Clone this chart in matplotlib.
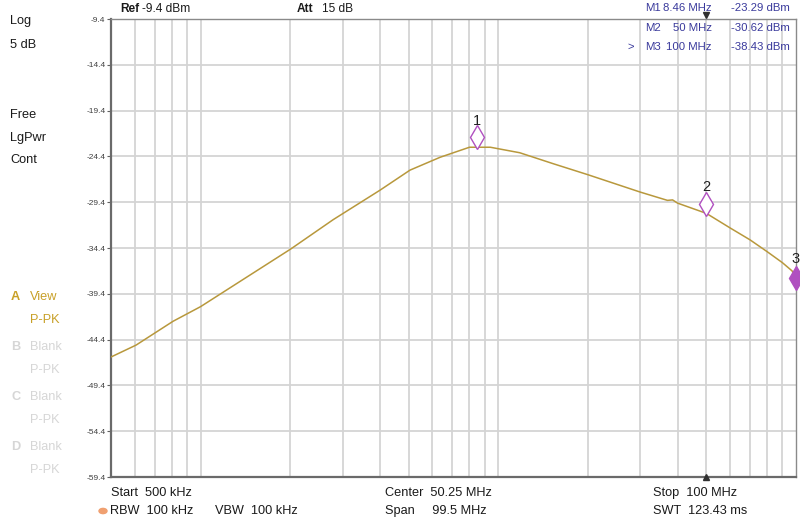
import matplotlib
matplotlib.use("Agg")
import matplotlib.pyplot as plt
import numpy as np
from matplotlib.transforms import ScaledTranslation

plt.rcParams['font.family'] = ['Liberation Sans', 'DejaVu Sans']

# ---- data ----
freq_mhz = [0.5, 0.607, 0.808, 1.0, 2.01, 2.79, 4.0, 5.05, 6.37, 8.0, 9.4,
            11.8, 15.3, 20.0, 30.0, 37.0, 38.5, 40.0, 50.0, 60.0, 70.0, 80.0, 90.0, 97.0, 100.0]
level_dbm = [-46.3, -45.0, -42.4, -40.8, -34.5, -31.3, -28.1, -25.9, -24.5, -23.4, -23.4,
             -24.0, -25.2, -26.4, -28.3, -29.2, -29.15, -29.5, -30.62, -32.2, -33.5, -34.8, -36.0, -36.9, -37.7]

marker_names = ["M1", "M2", "M3"]
marker_freq = [8.46, 50.0, 100.0]
marker_level = [-23.29, -30.62, -38.43]
marker_freq_txt = ["8.46 MHz", "50 MHz", "100 MHz"]
marker_level_txt = ["-23.29 dBm", "-30.62 dBm", "-38.43 dBm"]

y_ticks = [-9.4, -14.4, -19.4, -24.4, -29.4, -34.4, -39.4, -44.4, -49.4, -54.4, -59.4]
x_grid = [0.6, 0.7, 0.8, 0.9, 1, 2, 3, 4, 5, 6, 7, 8, 9, 10, 20, 30, 40, 50, 60, 70, 80, 90]

W, H = 800, 521
fig = plt.figure(figsize=(W / 100, H / 100), dpi=100)
ax = fig.add_axes([111 / W, 1 - 477 / H, (796 - 111) / W, (477 - 19) / H])

ax.set_xscale('log')
ax.set_xlim(0.5, 100)
ax.set_ylim(-59.4, -9.4)

# grid
for f in x_grid:
    ax.axvline(f, color='#d4d4d4', lw=1.3, zorder=0)
for yv in y_ticks:
    ax.axhline(yv, color='#d4d4d4', lw=1.3, zorder=0)

ax.plot(freq_mhz, level_dbm, color='#b8983c', lw=1.1, zorder=3)

# markers
mcol = '#b050c0'
off = ScaledTranslation(0, 7 / 72, fig.dpi_scale_trans)
label_off = [18, 19]
for i in range(2):
    ax.plot(marker_freq[i], marker_level[i], marker='d', ms=12, mfc='white', mec=mcol,
            mew=1.0, transform=ax.transData + off, zorder=5, clip_on=False)
    ax.annotate(str(i + 1), (marker_freq[i], marker_level[i]), xytext=(0, label_off[i]),
                textcoords='offset points', ha='center', va='center', fontsize=10.5, color='#202020')
ax.plot(marker_freq[2], level_dbm[-1], marker='d', ms=12, mfc=mcol, mec=mcol,
        zorder=5, clip_on=False)
ax.annotate("3", (marker_freq[2], level_dbm[-1]), xytext=(0, 14),
            textcoords='offset points', ha='center', va='center', fontsize=10.5, color='#202020',
            annotation_clip=False)

# small triangles at marker 2 position
ax.plot(marker_freq[1], -59.4, marker='^', ms=5, color='#303030', clip_on=False, zorder=6)
ax.plot(marker_freq[1], -9.4, marker='v', ms=5, color='#303030', clip_on=False, zorder=6,
        transform=ax.transData + ScaledTranslation(0, 3 / 72, fig.dpi_scale_trans))

# axes styling
ax.set_xticks([])
ax.set_xticks([], minor=True)
ax.set_yticks(y_ticks)
ax.set_yticklabels([f"{v:.1f}" for v in y_ticks], fontsize=6, color='#404040')
ax.tick_params(axis='y', length=3, width=0.8, color='#606060', pad=1)
for s in ['left', 'bottom']:
    ax.spines[s].set_color('#6a6a6a')
    ax.spines[s].set_linewidth(1.6)
for s in ['top', 'right']:
    ax.spines[s].set_color('#8a8a8a')
    ax.spines[s].set_linewidth(1.0)

def ftext(x, y, s, **kw):
    kw.setdefault('fontsize', 9.2)
    kw.setdefault('color', '#1a1a1a')
    kw.setdefault('va', 'center')
    fig.text(x / W, 1 - y / H, s, **kw)

# header
ftext(120, 9, "Ref", fontweight='bold', fontsize=8.6)
ftext(142, 9, "-9.4 dBm", fontsize=8.6)
ftext(297, 9, "Att", fontweight='bold', fontsize=8.6)
ftext(322, 9, "15 dB", fontsize=8.6)

# marker table
tcol = '#3a3a9c'
rows_y = [8, 28, 47]
for i in range(3):
    ftext(645, rows_y[i], marker_names[i], color=tcol, fontsize=8.2)
    ftext(712, rows_y[i], marker_freq_txt[i], color=tcol, ha='right', fontsize=8.2)
    ftext(790, rows_y[i], marker_level_txt[i], color=tcol, ha='right', fontsize=8.2)
ftext(627, rows_y[2], ">", color=tcol, fontsize=8.2)

# left panel
ftext(10, 21, "Log")
ftext(10, 45, "5 dB")
ftext(10, 115, "Free")
ftext(10, 138, "LgPwr")
ftext(10, 160, "Cont")
gold = '#c8a028'
grey = '#d6d6d6'
ftext(11, 297, "A", color=gold, fontweight='bold')
ftext(30, 297, "View", color=gold)
ftext(30, 320, "P-PK", color=gold)
for k, (lab, yy) in enumerate([("B", 347), ("C", 397), ("D", 447)]):
    ftext(11, yy, lab, color=grey, fontweight='bold')
    ftext(30, yy, "Blank", color=grey)
    ftext(30, yy + 23, "P-PK", color=grey)

# bottom
ftext(111, 493, "Start  500 kHz")
ftext(385, 493, "Center  50.25 MHz")
ftext(653, 493, "Stop  100 MHz")
fig.patches.append(plt.Circle((103 / W, 1 - 511 / H), 4 / W, transform=fig.transFigure,
                              color='#f0a070', zorder=5))
ftext(110, 511, "RBW  100 kHz")
ftext(215, 511, "VBW  100 kHz")
ftext(385, 511, "Span     99.5 MHz")
ftext(653, 511, "SWT  123.43 ms")

fig.savefig("out.png", dpi=100)
